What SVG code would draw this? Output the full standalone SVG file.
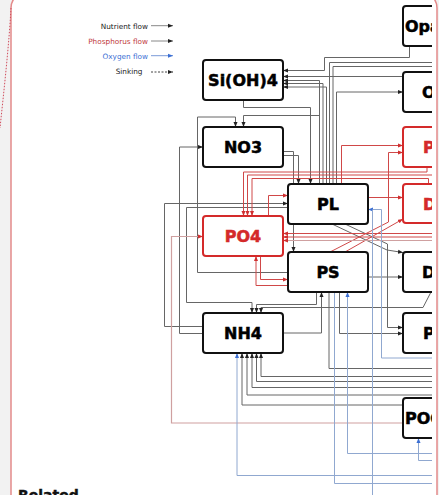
<svg xmlns="http://www.w3.org/2000/svg" width="439" height="495" viewBox="0 0 439 495">
<defs>
<style>
.k{stroke:#666;stroke-width:1;fill:none}
.r{stroke:#d04848;stroke-width:1;fill:none}
.rp{stroke:#cfa0a0;stroke-width:1.2;fill:none}
.b{stroke:#90a8d0;stroke-width:1;fill:none}
.box{fill:#fff;stroke:#111;stroke-width:2}
.rbox{fill:#fff;stroke:#d42a2a;stroke-width:2}
.t{font-family:"DejaVu Sans",sans-serif;font-weight:bold;font-size:16px;fill:#000;stroke:#000;stroke-width:0.5}
.rt{font-family:"DejaVu Sans",sans-serif;font-weight:bold;font-size:16px;fill:#d42a2a;stroke:#d42a2a;stroke-width:0.5}
.lg{font-family:"DejaVu Sans",sans-serif;font-size:7.3px;text-anchor:end}
</style>
<marker id="ak" viewBox="0 0 10 10" refX="10" refY="5" markerWidth="5" markerHeight="5" orient="auto" markerUnits="userSpaceOnUse"><path d="M0,1 L10,5 L0,9 z" fill="#222"/></marker>
<marker id="ar" viewBox="0 0 10 10" refX="10" refY="5" markerWidth="5" markerHeight="5" orient="auto" markerUnits="userSpaceOnUse"><path d="M0,1 L10,5 L0,9 z" fill="#d03030"/></marker>
<marker id="ab" viewBox="0 0 10 10" refX="10" refY="5" markerWidth="5" markerHeight="5" orient="auto" markerUnits="userSpaceOnUse"><path d="M0,1 L10,5 L0,9 z" fill="#3b6fd4"/></marker>
<clipPath id="clip"><rect x="12" y="0" width="420" height="495"/></clipPath>
</defs>
<rect x="0" y="0" width="439" height="495" fill="#f2f2f2"/>
<rect x="11" y="-8" width="426" height="520" rx="16" fill="#fff" stroke="#e48a8a" stroke-width="1.5"/>
<path d="M11,8 C9,45 4,90 0,128" fill="none" stroke="#d04a5a" stroke-width="1" stroke-dasharray="1.5 1.5"/>
<text x="18" y="500" font-family="DejaVu Sans, sans-serif" font-weight="bold" font-size="14" fill="#111" stroke="#111" stroke-width="0.4">Related</text>

<g id="legend">
<text class="lg" x="148" y="28.5" fill="#222">Nutrient flow</text>
<text class="lg" x="148" y="43.5" fill="#c0393b">Phosphorus flow</text>
<text class="lg" x="148" y="58.5" fill="#3b6fd4">Oxygen flow</text>
<text class="lg" x="142.5" y="74" fill="#222">Sinking</text>
<path d="M151,25.7 H173" stroke="#888" fill="none" marker-end="url(#ak)"/>
<path d="M151,41 H173" stroke="#888" fill="none" marker-end="url(#ak)"/>
<path d="M151,55.7 H173" stroke="#7a9ad8" fill="none" marker-end="url(#ab)"/>
<path d="M151,72 H173" stroke="#444" fill="none" stroke-dasharray="2 1.5" marker-end="url(#ak)"/>
</g>

<g clip-path="url(#clip)">
<g id="connectors">
<path class="k" d="M409.5,46 V57.5 H324.5 V70.5 H283" marker-end="url(#ak)"/>
<path class="k" d="M403,76.5 H283" marker-end="url(#ak)"/>
<path class="k" d="M319.5,184 V80.5 H283" marker-end="url(#ak)"/>
<path class="k" d="M323,184 V83.5 H283" marker-end="url(#ak)"/>
<path class="k" d="M326.5,184 V87 H283" marker-end="url(#ak)"/>
<path class="k" d="M432,62.5 H329.5 V184"/>
<path class="k" d="M432,66.5 H333 V184"/>
<path class="k" d="M336.5,184 V92 H403" marker-end="url(#ak)"/>
<path class="k" d="M243.5,100 V107.5 H310.5 V184" marker-end="url(#ak)"/>
<path class="k" d="M319.5,115.5 H243.5 V127" marker-end="url(#ak)"/>
<path class="k" d="M288,272.5 H197.5 V117 H235.5 V127" marker-end="url(#ak)"/>
<path class="k" d="M283,151.5 H293.5 V252" marker-end="url(#ak)"/>
<path class="k" d="M283,155.5 H298.5 V184" marker-end="url(#ak)"/>
<path class="k" d="M203,333.5 H179.5 V147 H203" marker-end="url(#ak)"/>
<path class="k" d="M203,326.5 H164.5 V203.5 H288" marker-end="url(#ak)"/>
<path class="k" d="M288,207.5 H186.5 V302.5 H252 V313" marker-end="url(#ak)"/>
<path class="k" d="M316.5,292 V304.5 H256.5 V313" marker-end="url(#ak)"/>
<path class="k" d="M431,292 L423,307.5 H261 V313" marker-end="url(#ak)"/>
<path class="k" d="M283,333 H321.5 V292" marker-end="url(#ak)"/>
<path class="k" d="M332,224 L387,250 L403,252.5" marker-end="url(#ak)"/>
<path class="k" d="M345,224 L387.5,244 V327.5 H403" marker-end="url(#ak)"/>
<path class="k" d="M368,277 H403" marker-end="url(#ak)"/>
<path class="k" d="M339.5,292 V333.5 H403" marker-end="url(#ak)"/>
<path class="k" d="M329,292 V368.5 H432"/>
<path class="k" d="M432,376.5 H261 V353" marker-end="url(#ak)"/>
<path class="k" d="M432,381.5 H256.5 V353" marker-end="url(#ak)"/>
<path class="k" d="M432,387.5 H252 V353" marker-end="url(#ak)"/>
<path class="k" d="M432,395 H247 V353" marker-end="url(#ak)"/>
<path class="k" d="M403,405 H242 V353" marker-end="url(#ak)"/>

<path class="r" d="M341.5,184 V145.5 H403" marker-end="url(#ar)"/>
<path class="r" d="M330,252 L388.5,222 V152.5 H403" marker-end="url(#ar)"/>
<path class="r" d="M345,252 L403,219" marker-end="url(#ar)"/>
<path class="r" d="M368,197.5 H403" marker-end="url(#ar)"/>
<path class="r" d="M427,167 V172 H243.5 V216" marker-end="url(#ar)"/>
<path class="r" d="M432,175 H247.5 V216" marker-end="url(#ar)"/>
<path class="r" d="M428.5,184 V178.5 H252 V216" marker-end="url(#ar)"/>
<path class="r" d="M268.5,216 V195.5 H288" marker-end="url(#ar)"/>
<path class="r" d="M260.5,256 V279.5 H288" marker-end="url(#ar)"/>
<path class="r" d="M288,285.5 H256 V256" marker-end="url(#ar)"/>
<path class="r" d="M432,233.5 H283" marker-end="url(#ar)"/>
<path class="r" d="M432,237 H283" marker-end="url(#ar)"/>
<path class="rp" d="M432,240.5 H283" marker-end="url(#ar)"/>
<path class="rp" d="M403,423 H171.5 V236.5 H203" marker-end="url(#ar)"/>

<path class="b" d="M432,358 H381.5 V209.5 H368" marker-end="url(#ab)"/>
<path class="b" d="M372.5,495 V209.5"/>
<path class="b" d="M432,453.5 H347.5 V292" marker-end="url(#ab)"/>
<path class="b" d="M334.5,292 V483.5 H432"/>
<path class="b" d="M432,475.5 H237 V353" marker-end="url(#ab)"/>
<path class="b" d="M432,460.5 H418.5 V438" marker-end="url(#ab)"/>
</g>

<g id="node-opal"><rect class="box" x="403" y="6" width="80" height="40" rx="3"/><text class="t" x="405" y="32">Opal</text></g>
<g id="node-o2"><rect class="box" x="403" y="72" width="80" height="40" rx="3"/><text class="t" x="422" y="98">O2</text></g>
<g id="node-pop"><rect class="rbox" x="403" y="127" width="80" height="40" rx="3"/><text class="rt" x="423" y="153">POP</text></g>
<g id="node-dop"><rect class="rbox" x="403" y="184" width="80" height="39" rx="3"/><text class="rt" x="423" y="209.5">DOP</text></g>
<g id="node-don"><rect class="box" x="403" y="252" width="80" height="40" rx="3"/><text class="t" x="422" y="278">DON</text></g>
<g id="node-pon"><rect class="box" x="403" y="313" width="80" height="40" rx="3"/><text class="t" x="423" y="339">PON</text></g>
<g id="node-poc"><rect class="box" x="403" y="398" width="80" height="40" rx="3"/><text class="t" x="405" y="424">POC</text></g>
</g>

<g id="node-sioh4"><rect class="box" x="203" y="60" width="80" height="40" rx="3"/><text class="t" x="243" y="86" text-anchor="middle">Si(OH)4</text></g>
<g id="node-no3"><rect class="box" x="203" y="127" width="80" height="40" rx="3"/><text class="t" x="243" y="153" text-anchor="middle">NO3</text></g>
<g id="node-po4"><rect class="rbox" x="203" y="216" width="80" height="40" rx="3"/><text class="rt" x="243" y="242" text-anchor="middle">PO4</text></g>
<g id="node-pl"><rect class="box" x="288" y="184" width="80" height="40" rx="3"/><text class="t" x="328" y="210" text-anchor="middle">PL</text></g>
<g id="node-ps"><rect class="box" x="288" y="252" width="80" height="40" rx="3"/><text class="t" x="328" y="278" text-anchor="middle">PS</text></g>
<g id="node-nh4"><rect class="box" x="203" y="313" width="80" height="40" rx="3"/><text class="t" x="243" y="339" text-anchor="middle">NH4</text></g>
</svg>
